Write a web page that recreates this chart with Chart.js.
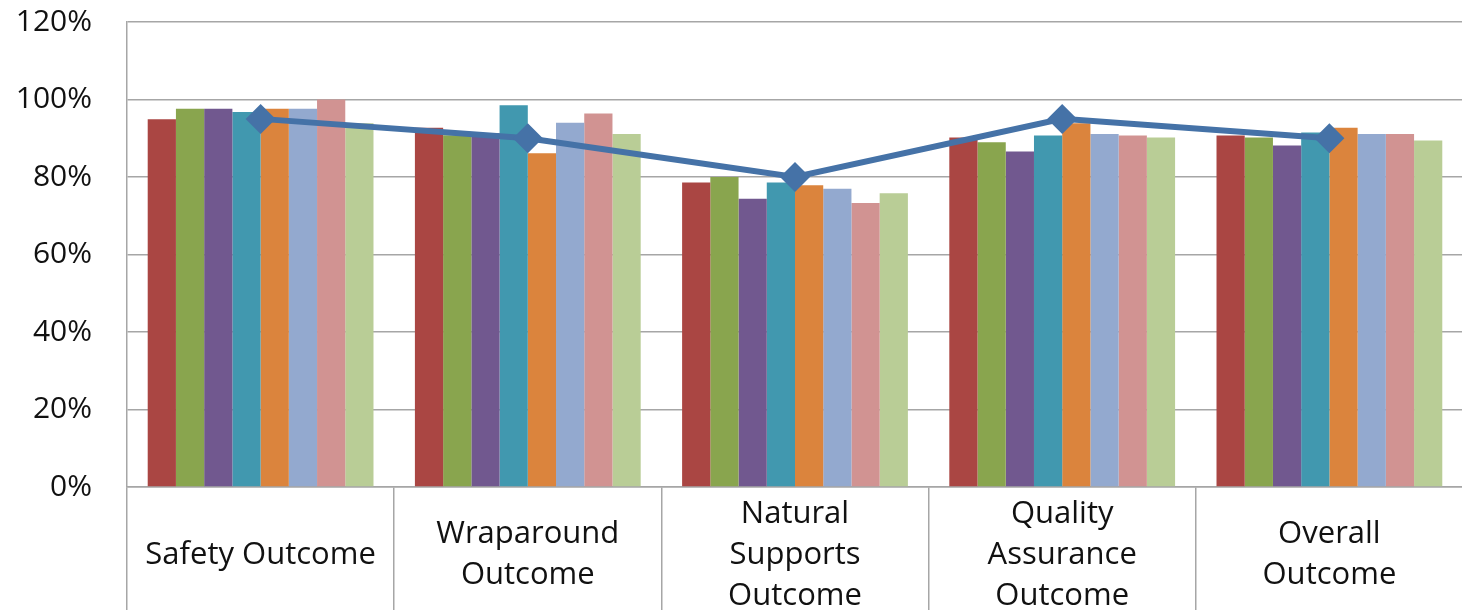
<!DOCTYPE html>
<html>
<head>
<meta charset="utf-8">
<script src="https://cdn.jsdelivr.net/npm/chart.js@4.4.1/dist/chart.umd.min.js"></script>
<style>
  html, body { margin: 0; padding: 0; background: #fff; overflow: hidden; }
  #wrap { position: relative; width: 1478px; height: 610px; }
</style>
</head>
<body>
<div id="wrap"><canvas id="c"></canvas></div>
<script>
const categories = [
  ['Safety Outcome'],
  ['Wraparound', 'Outcome'],
  ['Natural', 'Supports', 'Outcome'],
  ['Quality', 'Assurance', 'Outcome'],
  ['Overall', 'Outcome']
];
const yTicks = [0, 20, 40, 60, 80, 100, 120];

const series1 = [94.9, 92.7, 78.6, 90.2, 90.7];
const series2 = [97.6, 90.8, 80.0, 89.0, 90.2];
const series3 = [97.6, 91.3, 74.4, 86.6, 88.1];
const series4 = [96.8, 98.5, 78.6, 90.7, 91.5];
const series5 = [97.6, 86.1, 77.9, 93.9, 92.7];
const series6 = [97.6, 94.0, 77.0, 91.1, 91.1];
const series7 = [100.0, 96.4, 73.3, 90.7, 91.1];
const series8 = [93.9, 91.1, 75.8, 90.2, 89.4];
const target  = [95, 90, 80, 95, 90];

const barSeries = [series1, series2, series3, series4, series5, series6, series7, series8];
const barColors = ['#AA4643', '#89A54E', '#71588F', '#4198AF', '#DB843D', '#93A9CF', '#D19392', '#B9CD96'];

const datasets = [{
  type: 'line',
  data: target,
  borderColor: '#4572A7',
  backgroundColor: '#4572A7',
  borderWidth: 6,
  pointStyle: 'rectRot',
  pointRadius: 15,
  pointHoverRadius: 15,
  pointBorderWidth: 0,
  tension: 0,
  order: 0
}];
barSeries.forEach((s, i) => datasets.push({
  type: 'bar',
  data: s,
  backgroundColor: barColors[i],
  borderWidth: 0,
  barPercentage: 1.0,
  categoryPercentage: 0.845,
  order: 1
}));

const FONT = '"Open Sans", sans-serif';
new Chart(document.getElementById('c'), {
  data: { labels: categories, datasets },
  options: {
    responsive: true,
    maintainAspectRatio: false,
    animation: false,
    events: [],
    layout: { padding: { top: 22, left: 0, right: 0, bottom: 0 } },
    plugins: { legend: { display: false }, tooltip: { enabled: false } },
    scales: {
      x: {
        grid: {
          offset: true,
          drawOnChartArea: false,
          drawTicks: true,
          tickLength: 123,
          color: '#A6A6A6',
          lineWidth: 1.5
        },
        border: { color: '#A6A6A6', width: 1.5 },
        ticks: {
          color: '#111111',
          font: { family: FONT, size: 31, lineHeight: 1.32 },
          padding: -96,
          maxRotation: 0,
          autoSkip: false,
          crossAlign: 'center'
        },
        afterFit: (s) => { s.height = 123; s.paddingLeft = 0; s.paddingRight = 0; }
      },
      y: {
        min: 0, max: 120,
        afterBuildTicks: (s) => { s.ticks = yTicks.map(v => ({ value: v })); },
        grid: { color: '#A6A6A6', lineWidth: 1.5, drawTicks: false },
        border: { color: '#A6A6A6', width: 1.5 },
        ticks: {
          color: '#111111',
          font: { family: FONT, size: 30 },
          padding: 35,
          callback: (v) => v + '%'
        },
        afterFit: (s) => { s.width = 127; s.paddingTop = 0; s.paddingBottom = 0; }
      }
    }
  }
});
</script>
</body>
</html>
